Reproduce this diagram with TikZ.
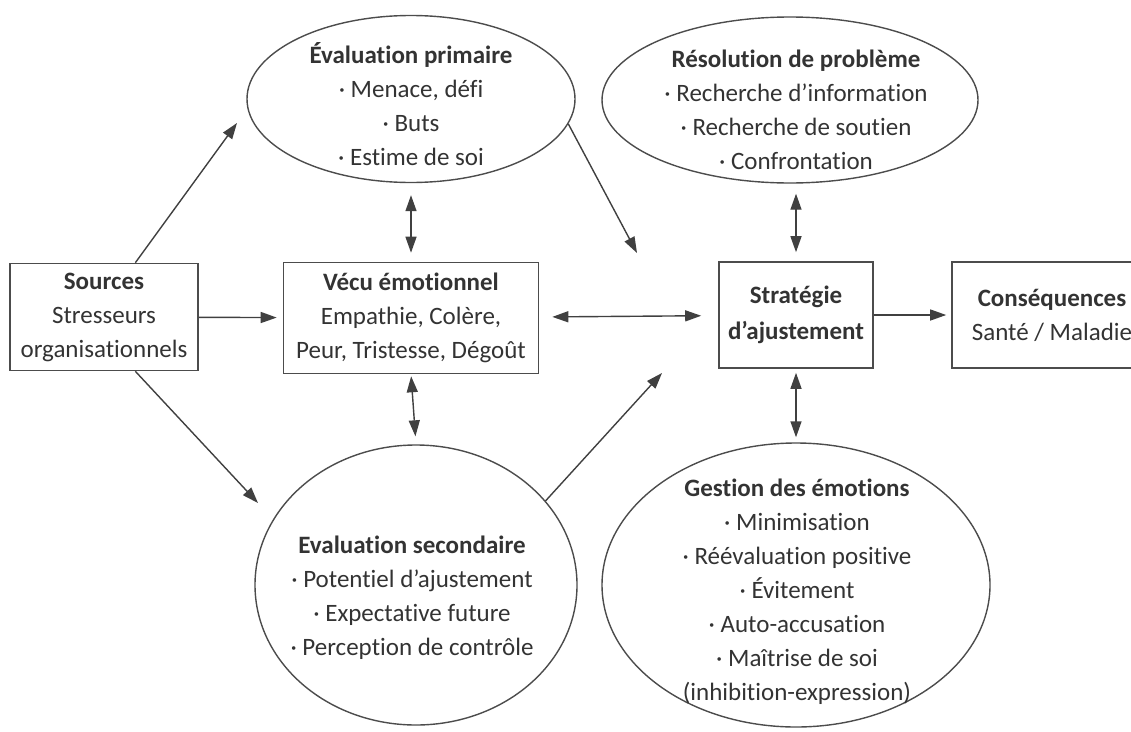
\documentclass[tikz,border=0pt]{standalone}
\usepackage{fontspec}
\setmainfont{Carlito}[Ligatures={TeX,NoCommon}]
\usetikzlibrary{shapes.geometric, arrows.meta, calc}
\tikzstyle{box}=[rectangle, draw=black!70, line width=1.6pt, inner sep=0pt]
\tikzstyle{oval}=[ellipse, draw=black!70, line width=1.4pt, inner sep=0pt]
\tikzstyle{txt}=[align=center, text=black!80, inner sep=0pt, font=\fontsize{25}{34}\selectfont]
\tikzstyle{link}=[line width=1.4pt, draw=black!75, -{Triangle[length=16pt,width=11pt]}]
\tikzstyle{dlink}=[link, {Triangle[length=16pt,width=11pt]}-{Triangle[length=16pt,width=11pt]}]

\begin{document}
\begin{tikzpicture}[x=1pt, y=-1pt]
\useasboundingbox (0,0) rectangle (1131,731);
\node [box, txt, minimum width=188pt, minimum height=107pt] (src) at (104,317) {\textbf{Sources}\\Stresseurs\\organisationnels};
\node [box, txt, minimum width=255pt, minimum height=111pt] (vecu) at (411,318) {\textbf{Vécu émotionnel}\\Empathie, Colère,\\Peur, Tristesse, Dégoût};
\node [box, txt, font=\fontsize{25}{36}\selectfont\bfseries, minimum width=154pt, minimum height=106pt] (strat) at (796,315) {Stratégie\\d'ajustement};
\node [box, txt, minimum width=200pt, minimum height=106pt] (cons) at (1052,315) {\textbf{Conséquences}\\Santé / Maladie};

\node [oval, minimum width=328pt, minimum height=167pt] (prim) at (411,99) {};
\node [txt] (primtxt) at (411,104) {\textbf{Évaluation primaire}\\· Menace, défi\\· Buts\\· Estime de soi};
\node [oval, minimum width=376pt, minimum height=166pt] (res) at (790,100) {};
\node [txt] (restxt) at (796,110) {\textbf{Résolution de problème}\\· Recherche d'information\\· Recherche de soutien\\· Confrontation};
\node [oval, minimum width=322pt, minimum height=280pt] (sec) at (416,585) {};
\node [txt] (sectxt) at (412,598) {\textbf{Evaluation secondaire}\\· Potentiel d'ajustement\\· Expectative future\\· Perception de contrôle};
\node [oval, minimum width=388pt, minimum height=284pt] (gest) at (796,585) {};
\node [txt] (gesttxt) at (797,592) {\textbf{Gestion des émotions}\\· Minimisation\\· Réévaluation positive\\· Évitement\\· Auto-accusation\\· Maîtrise de soi\\(inhibition-expression)};

\coordinate (tprim) at (237,123); \coordinate (tsec) at (258,503);
\coordinate (tup) at (637,253); \coordinate (tdown) at (662,373);

\draw [link, shorten >=6pt] (src) -- (vecu);
\draw [link] (src.60) -- (tprim);
\draw [link] (src.-60) -- (tsec);
\draw [link] (prim.-9) -- (tup);
\draw [link] (sec.33) -- (tdown);
\draw [link, shorten >=5pt] (strat) -- (cons);
\draw [dlink, shorten <=13pt, shorten >=17pt] (vecu) -- (strat);
\draw [dlink, shorten <=12pt, shorten >=9pt] (prim.south) -- (vecu.north);
\draw [dlink, shorten <=2pt, shorten >=8pt] (vecu.south) -- (sec.north);
\draw [dlink, shorten <=10pt, shorten >=9pt] (res.south -| strat.north) -- (strat.north);
\draw [dlink, shorten <=4pt, shorten >=5pt] (strat.south) -- (strat.south |- gest.north);
\end{tikzpicture}
\end{document}
